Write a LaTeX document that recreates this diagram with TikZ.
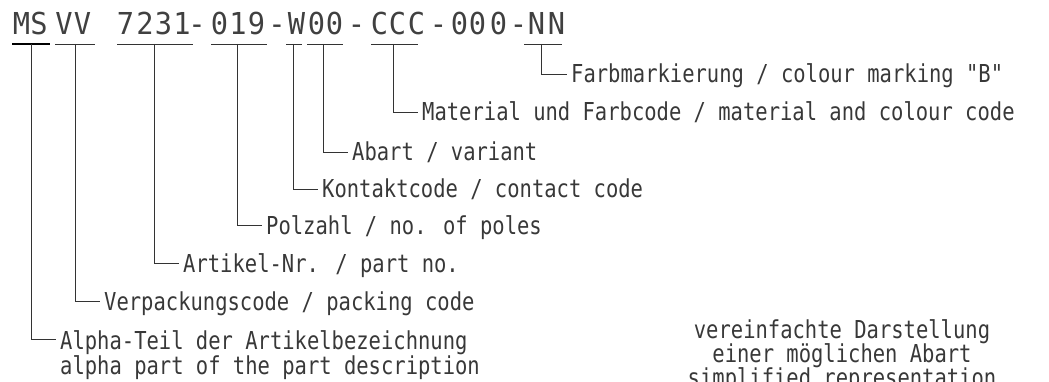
\documentclass[tikz,border=0pt]{standalone}
\usepackage{fontspec}
\newfontfamily\lblfont[FakeStretch=0.83]{DejaVu Sans Mono}
\newfontfamily\codefont[FakeStretch=0.95]{DejaVu Sans Mono}
\begin{document}
\begin{tikzpicture}[x=1pt,y=-1pt,
  lbl/.style={font=\lblfont\fontsize{24.7}{26}\selectfont, text=black!78, inner sep=0pt, anchor=base west},
  ctr/.style={font=\lblfont\fontsize{24.7}{26}\selectfont, text=black!78, inner sep=0pt, anchor=base},
  codechar/.style={font=\codefont\fontsize{30.2}{32}\selectfont, text=black!75, inner sep=0pt, anchor=base},
  ln/.style={line width=0.8pt, draw=black!80}]
\clip (0,0) rectangle (1049,382);
% code line, one node per character
\foreach \c/\x [count=\i] in {M/21.5,S/39,V/64,V/82.5,7/125.5,2/145,3/163.5,1/182,-/197,0/219.5,1/238,9/256.5,-/277,W/296.5,0/316.5,0/334.5,-/356.5,C/379.5,C/397.5,C/416.5,-/438.5,0/459.5,0/477.5,0/498.5,-/518.5,N/536.5,N/556.5}
  \node[codechar] (ch\i) at (\x,35) {\c};
% underlines
\coordinate (ua1) at (12,44); \coordinate (ub1) at (50,44);
\draw[ln, line width=1.3pt, draw=black] (ua1) -- (ub1);
\foreach \a/\b [count=\i from 2] in {55/95,117/193,211/267,286/302,307/343,371/418,524/562}{
  \coordinate (ua\i) at (\a,44); \coordinate (ub\i) at (\b,44);
  \draw[ln] (ua\i) -- (ub\i);
}
% leaders and labels
\coordinate (t1) at (31,44);    \coordinate (e1) at (56,339);
\coordinate (t2) at (75,44);    \coordinate (e2) at (100,301);
\coordinate (t3) at (154,44);   \coordinate (e3) at (179,263);
\coordinate (t4) at (237,44);   \coordinate (e4) at (262,225);
\coordinate (t5) at (293,44);   \coordinate (e5) at (318,189);
\coordinate (t6) at (323,44);   \coordinate (e6) at (348,152);
\coordinate (t7) at (393,44);   \coordinate (e7) at (418,112);
\coordinate (t8) at (541.5,44); \coordinate (e8) at (566.5,74);
\foreach \i in {1,...,8} \draw[ln] (t\i) |- (e\i);
\node[lbl] (l1) at (60,349) {Alpha-Teil der Artikelbezeichnung};
\node[lbl] (l1b) at (60,374) {alpha part of the part description};
\node[lbl] (l2) at (104,310) {Verpackungscode / packing code};
\node[lbl] (l3) at (183,272) {Artikel-Nr. / part no.};
\node[lbl] (l4) at (266,234) {Polzahl / no. of poles};
\node[lbl] (l5) at (322,198) {Kontaktcode / contact code};
\node[lbl] (l6) at (352,161) {Abart / variant};
\node[lbl] (l7) at (422,121) {Material und Farbcode / material and colour code};
\node[lbl] (l8) at (571,83) {Farbmarkierung / colour marking "B"};
% note
\node[ctr] (n1) at (842,338) {vereinfachte Darstellung};
\node[ctr] (n2) at (842,362) {einer möglichen Abart};
\node[ctr] (n3) at (842,386) {simplified representation};
\end{tikzpicture}
\end{document}
